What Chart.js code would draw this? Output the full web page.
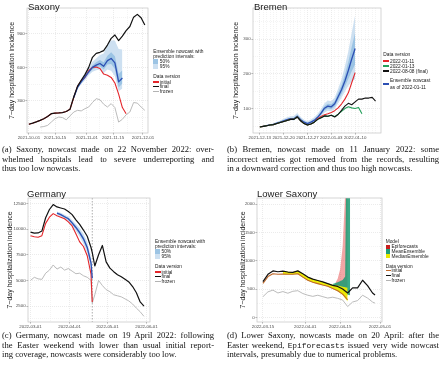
<!DOCTYPE html>
<html>
<head>
<meta charset="utf-8">
<script src="https://cdn.jsdelivr.net/npm/chart.js@4.4.1/dist/chart.umd.min.js"></script>
<style>
  body { margin: 0; background: #fff; }
  #page { position: relative; width: 440px; height: 365px; overflow: hidden; font-family: "Liberation Sans", Arial, sans-serif; }
  canvas { position: absolute; }
  .ttl { position: absolute; font-size: 9.5px; line-height: 9.5px; color: #1a1a1a; white-space: nowrap; }
  .lg { position: absolute; font-size: 4.8px; line-height: 5px; color: #1a1a1a; white-space: nowrap; }
  .key { position: absolute; }
  .cap { position: absolute; width: 212px; font-family: "Liberation Serif", serif; font-size: 8.6px; line-height: 9.6px; color: #111; }
  .cap div { text-align: justify; text-align-last: justify; white-space: nowrap; }
  .cap div.last { text-align: left; text-align-last: left; }
  .cap tt { font-family: "Liberation Mono", monospace; font-size: 7.9px; }
</style>
</head>
<body>
<div id="page">
  <canvas id="sax" width="162" height="142" style="left:0;top:0"></canvas>
  <canvas id="bre" width="160" height="142" style="left:226px;top:0"></canvas>
  <canvas id="ger" width="162" height="142" style="left:0;top:190px"></canvas>
  <canvas id="lsx" width="166" height="142" style="left:230px;top:190px"></canvas>

  <div class="ttl" style="left:28px;top:1.7px">Saxony</div>
  <div class="ttl" style="left:254px;top:1.7px">Bremen</div>
  <div class="ttl" style="left:27px;top:189px">Germany</div>
  <div class="ttl" style="left:257px;top:189px">Lower Saxony</div>

  <div class="cap" style="left:2px;top:145px">
    <div>(a) Saxony, nowcast made on 22 November 2022: over-</div>
    <div>whelmed hospitals lead to severe underreporting and</div>
    <div class="last">thus too low nowcasts.</div>
  </div>
  <div class="cap" style="left:227px;top:145px">
    <div>(b) Bremen, nowcast made on 11 January 2022: some</div>
    <div>incorrect entries got removed from the records, resulting</div>
    <div class="last">in a downward correction and thus too high nowcasts.</div>
  </div>
  <div class="cap" style="left:2px;top:331px">
    <div>(c) Germany, nowcast made on 19 April 2022: following</div>
    <div>the Easter weekend with lower than usual initial report-</div>
    <div class="last">ing coverage, nowcasts were considerably too low.</div>
  </div>
  <div class="cap" style="left:227px;top:331px">
    <div>(d) Lower Saxony, nowcasts made on 20 April: after the</div>
    <div>Easter weekend, <tt>Epiforecasts</tt> issued very wide nowcast</div>
    <div class="last">intervals, presumably due to numerical problems.</div>
  </div>
</div>

<script>
// ---------- (a) Saxony ----------
const saxOrigin = '2021-10-01';
const saxXLabels = ['2021-10-01', '2021-10-15', '2021-11-01', '2021-11-15', '2021-12-01'];
const saxYTicks = [300, 600, 900];
const saxDays = [0,2,4,6,8,10,12,14,16,18,20,22,24,26,28,30,32,34,36,38,40,42,44,46,48,50,52,54,56,58,60,62];
const saxFinal = [90,100,112,125,140,160,185,190,192,195,205,225,335,430,485,535,600,690,725,735,750,800,860,890,840,880,930,966,1050,1075,1045,980];
const saxInitial = [90,100,112,125,140,160,185,190,192,195,205,225,330,430,480,510,570,600,603,590,540,530,510,460,360,240,185,null,null,null,null,null];
const saxFrozen = [null,null,null,65,70,80,110,140,155,150,130,165,200,215,210,230,245,285,320,310,270,245,275,240,110,135,175,200,285,280,245,215];
const saxNowDays = [24,26,28,30,32,34,36,38,40,42,44,46,48,50];
const saxMedian = [330,420,470,515,560,600,620,635,610,660,680,640,470,505];
const saxLo95 = [320,405,450,485,530,560,575,580,550,580,570,520,385,410];
const saxLo50 = [326,413,462,500,546,582,598,610,582,625,630,585,420,455];
const saxHi50 = [335,428,480,532,576,620,645,665,645,705,735,700,540,575];
const saxHi95 = [342,440,495,548,600,650,680,712,725,800,840,840,765,760];

// ---------- (b) Bremen ----------
const breOrigin = '2021-12-13';
const breXLabels = ['2021-12-13', '2021-12-20', '2021-12-27', '2022-01-03', '2022-01-10'];
const breYTicks = [100, 200, 300];
const breDays = [0,1,2,3,4,5,6,7,8,9,10,11,12,13,14,15,16,17,18,19,20,21,22,23,24,25,26,27,28,29,30,31,32,33,34];
const breFinal = [48,50,52,54,55,58,61,64,67,70,70,77,66,58,54,57,62,70,75,80,79,82,77,84,96,108,116,112,120,128,128,131,131,133,122];
const bre0113 = [48,50,52,54,55,58,61,64,67,70,70,77,66,58,54,57,62,70,75,80,79,82,78,85,93,101,106,103,101,104,86,null,null,null,null];
const bre0111 = [48,50,52,54,55,58,61,64,67,70,70,77,66,58,54,57,62,72,78,83,86,90,95,103,114,128,146,175,204,null,null,null,null,null,null];
const breNowDays = [1,2,3,4,5,6,7,8,9,10,11,12,13,14,15,16,17,18,19,20,21,22,23,24,25,26,27,28];
const breMedian = [50,52,54,56,59,62,66,69,72,72,79,69,62,58,62,67,76,88,102,108,106,115,135,155,180,210,243,273];
const breLo95 = [49,51,53,54,56,59,62,65,68,67,73,64,57,53,56,60,68,78,90,95,93,100,116,132,150,166,178,186];
const breLo50 = [50,52,53,55,58,61,64,67,70,70,76,67,60,56,59,64,72,83,96,101,99,107,125,143,164,186,208,228];
const breHi50 = [51,53,55,57,60,63,68,71,74,75,82,72,65,61,65,71,80,93,108,115,113,123,146,168,198,235,278,318];
const breHi95 = [52,54,56,59,63,67,72,76,79,80,88,77,69,65,70,76,86,100,116,124,122,133,158,185,222,265,318,368];

// ---------- (c) Germany ----------
const gerOrigin = '2022-03-01';
const gerXLabels = ['2022-03-01', '2022-04-01', '2022-05-01', '2022-06-01'];
const gerYTicks = [2500, 5000, 7500, 10000, 12500];
const gerNowcastDate = '2022-04-19';
const gerDays = [0,3,6,9,12,15,18,21,24,27,30,33,36,39,42,45,48,49,51,54,57,60,63,66,69,72,75,78,81,84,87,90];
const gerFinal = [9700,9600,9620,9800,11100,11900,12380,12150,12050,11950,11700,11400,10900,10450,9900,9300,8200,7700,6400,7500,8400,6800,6200,5850,5550,5350,5100,4850,4400,3800,2900,2500];
const gerInitial = [9350,9250,9200,9350,10550,11150,11500,11300,11150,11000,10700,10300,9550,8750,8300,7400,5600,2900,null,null,null,null,null,null,null,null,null,null,null,null,null,null];
const gerFrozen = [5000,5300,5150,5100,5700,6000,6500,6100,6300,6000,6150,5900,5650,5700,5450,5300,5000,2800,3600,5000,4500,4100,3900,3600,3500,3400,3200,3000,2700,2300,1950,1500];
const gerNowDays = [21,24,27,30,33,36,39,42,45,48,49];
const gerMedian = [11550,11400,11200,11000,10600,10150,9650,9050,8200,6700,5200];
const gerLo95 = [11400,11220,11000,10770,10320,9800,9220,8550,7640,6180,4720];
const gerLo50 = [11490,11330,11120,10905,10485,10010,9475,8850,7975,6490,5010];
const gerHi50 = [11610,11470,11280,11095,10715,10290,9825,9250,8425,6910,5390];
const gerHi95 = [11700,11580,11400,11230,10880,10500,10080,9550,8760,7220,5680];

// ---------- (d) Lower Saxony ----------
const lsOrigin = '2022-03-15';
const lsXLabels = ['2022-03-15', '2022-04-01', '2022-04-15', '2022-05-01'];
const lsYTicks = [0, 500, 1000, 1500, 2000];
const lsDays = [0,2,4,6,8,10,12,14,16,18,20,22,24,26,28,30,32,34,36,38,40,42,44,45];
const lsFinal = [630,760,820,805,815,800,795,820,770,710,675,650,625,595,565,545,500,430,520,520,655,560,430,395];
const lsInitial = [600,720,770,760,765,760,760,770,710,655,620,595,570,550,510,470,410,310,null,null,null,null,null,null];
const lsFrozen = [365,450,480,430,455,425,460,470,420,390,370,390,365,340,355,335,305,190,270,295,390,340,270,250];
const lsMedDays = [8,10,12,14,16,18,20,22,24,26,28,30,32,34];
const lsMedLo = [760,755,755,765,705,650,615,590,565,545,505,460,395,280];
const lsMedHi = [820,805,800,825,775,715,680,655,630,600,575,560,540,520];
const lsMeanDays = [28,30,32,33,34,35];
const lsMeanLo = [520,490,450,430,400,390];
const lsMeanHi = [590,620,660,720,5000,5000];
const lsEpiDays = [29,30,31,32,33,34];
const lsEpiLo = [500,480,450,420,400,380];
const lsEpiHi = [600,680,850,1250,2200,6000];

// colours
const cRed = '#e4262b', cBlack = '#111111', cGrey = '#b3b3b3', cBlue = '#2c4fb3';
const cBand95 = '#cde0f1', cBand50 = '#9cc4e4';
const cGreen = '#23a05a', cBrown = '#c0692b';
const cEpi = 'rgba(226,55,55,0.45)', cMean = 'rgba(27,155,115,0.85)', cMed = 'rgba(236,236,0,0.97)';
const cEpiKey = '#c81e1e', cMeanKey = '#1f9e78', cMedKey = '#e8e800';

const font = '"Liberation Sans", Arial, sans-serif';

function dayOf(origin, s) {
  return Math.round((Date.parse(s) - Date.parse(origin)) / 864e5);
}

function series(days, vals) {
  return days.map((d, i) => ({ x: d, y: vals[i] }));
}

function line(days, vals, color, width, order) {
  return { data: series(days, vals), borderColor: color, borderWidth: width, pointRadius: 0,
           fill: false, order: order, borderJoinStyle: 'round' };
}

// lower bound + upper bound filled down to it
function band(days, lo, hi, color, order) {
  return [
    { data: series(days, lo), borderWidth: 0, borderColor: 'rgba(0,0,0,0)', pointRadius: 0, fill: false, order: order },
    { data: series(days, hi), borderWidth: 0, borderColor: 'rgba(0,0,0,0)', pointRadius: 0, fill: '-1', backgroundColor: color, order: order }
  ];
}

// panel border + optional dashed vertical line
const panelBox = {
  id: 'panelBox',
  beforeDatasetsDraw(chart, args, opts) {
    if (opts.value == null) return;
    const { ctx, chartArea: a } = chart;
    const x = chart.scales.x.getPixelForValue(opts.value);
    ctx.save();
    ctx.strokeStyle = '#777';
    ctx.lineWidth = 0.6;
    ctx.setLineDash([1.5, 1.5]);
    ctx.beginPath();
    ctx.moveTo(x, a.top);
    ctx.lineTo(x, a.bottom);
    ctx.stroke();
    ctx.restore();
  },
  afterDatasetsDraw(chart) {
    const { ctx, chartArea: a } = chart;
    ctx.save();
    ctx.strokeStyle = '#c4c4c4';
    ctx.lineWidth = 0.7;
    ctx.strokeRect(a.left, a.top, a.right - a.left, a.bottom - a.top);
    ctx.restore();
  }
};

function makePanel(id, o) {
  const xLab = new Map(o.xMajor.map((v, i) => [v, o.xLabels[i]]));
  const yLab = new Map(o.yMajor.map(v => [v, v.toString()]));
  const xAll = o.xMajor.concat(o.xMinor);
  const yAll = o.yMajor.concat(o.yMinor);
  const gridColor = map => c => (c.tick && map.has(c.tick.value)) ? '#d6d6d6' : '#e8e8e8';
  const tickColor = map => c => (c.tick && map.has(c.tick.value)) ? '#555' : 'rgba(0,0,0,0)';
  return new Chart(document.getElementById(id), {
    type: 'line',
    data: { datasets: o.datasets },
    options: {
      responsive: false,
      animation: false,
      events: [],
      layout: { padding: { top: o.padTop, right: o.padRight, left: 0, bottom: 0 } },
      plugins: { legend: { display: false }, tooltip: { enabled: false }, panelBox: { value: o.vline } },
      scales: {
        x: {
          type: 'linear', min: o.xMin, max: o.xMax,
          afterBuildTicks: a => { a.ticks = xAll.map(v => ({ value: v })); },
          afterFit: a => { a.height = o.xH; a.paddingLeft = 0; a.paddingRight = 0; },
          ticks: { autoSkip: false, maxRotation: 0, minRotation: 0, padding: 0.8, color: '#4d4d4d',
                   font: { family: font, size: 4.4 }, callback: v => xLab.get(v) ?? '' },
          grid: { color: gridColor(xLab), lineWidth: 0.5, tickLength: 1.5, tickColor: tickColor(xLab) },
          border: { display: false, dash: [1, 1] }
        },
        y: {
          min: o.yMin, max: o.yMax,
          afterBuildTicks: a => { a.ticks = yAll.map(v => ({ value: v })); },
          afterFit: a => { a.width = o.yW; a.paddingTop = 0; a.paddingBottom = 0; },
          ticks: { padding: 0.8, color: '#4d4d4d', font: { family: font, size: 4.4 },
                   callback: v => yLab.get(v) ?? '' },
          grid: { color: gridColor(yLab), lineWidth: 0.5, tickLength: 1.5, tickColor: tickColor(yLab) },
          border: { display: false, dash: [1, 1] },
          title: { display: true, text: '7\u2212day hospitalization incidence', color: '#1a1a1a',
                   font: { family: font, size: 7 }, padding: o.titlePad }
        }
      }
    },
    plugins: [panelBox]
  });
}

// (a) Saxony
makePanel('sax', {
  xMin: -1, xMax: 63.7, yMin: 12, yMax: 1132,
  xMajor: saxXLabels.map(s => dayOf(saxOrigin, s)), xLabels: saxXLabels, xMinor: [7, 22.5, 38, 53],
  yMajor: saxYTicks, yMinor: [150, 450, 750, 1050],
  yW: 27, xH: 9, padTop: 8, padRight: 14, titlePad: 7.5,
  datasets: [
    ...band(saxNowDays, saxLo95, saxHi95, cBand95, 9),
    ...band(saxNowDays, saxLo50, saxHi50, cBand50, 8),
    line(saxDays, saxFrozen, cGrey, 0.9, 4),
    line(saxDays, saxInitial, cRed, 1.1, 3),
    line(saxNowDays, saxMedian, cBlue, 1.3, 2),
    line(saxDays, saxFinal, cBlack, 1.2, 1)
  ]
});

// (b) Bremen
makePanel('bre', {
  xMin: -2, xMax: 35.6, yMin: 31, yMax: 389,
  xMajor: breXLabels.map(s => dayOf(breOrigin, s)), xLabels: breXLabels,
  xMinor: breDays.filter(d => d % 7 !== 0),
  yMajor: breYTicks, yMinor: [50, 150, 250, 350],
  yW: 27, xH: 9, padTop: 8, padRight: 5, titlePad: 5.8,
  datasets: [
    ...band(breNowDays, breLo95, breHi95, cBand95, 9),
    ...band(breNowDays, breLo50, breHi50, cBand50, 8),
    line(breNowDays, breMedian, cBlue, 1.3, 4),
    line(breDays, bre0111, cRed, 1.1, 3),
    line(breDays, bre0113, cGreen, 1.1, 2),
    line(breDays, breFinal, cBlack, 1.1, 1)
  ]
});

// (c) Germany
makePanel('ger', {
  xMin: -2, xMax: 94.8, yMin: 950, yMax: 13020,
  xMajor: gerXLabels.map(s => dayOf(gerOrigin, s)), xLabels: gerXLabels, xMinor: [15.5, 46, 76.5],
  yMajor: gerYTicks, yMinor: [1250, 3750, 6250, 8750, 11250],
  yW: 28, xH: 10, padTop: 8, padRight: 12, titlePad: 5.8,
  vline: dayOf(gerOrigin, gerNowcastDate),
  datasets: [
    ...band(gerNowDays, gerLo95, gerHi95, cBand95, 9),
    ...band(gerNowDays, gerLo50, gerHi50, cBand50, 8),
    line(gerDays, gerFrozen, cGrey, 0.9, 4),
    line(gerDays, gerInitial, cRed, 1.1, 3),
    line(gerNowDays, gerMedian, cBlue, 1.3, 2),
    line(gerDays, gerFinal, cBlack, 1.2, 1)
  ]
});

// (d) Lower Saxony
makePanel('lsx', {
  xMin: -2.4, xMax: 47.8, yMin: -83, yMax: 2108,
  xMajor: lsXLabels.map(s => dayOf(lsOrigin, s)), xLabels: lsXLabels, xMinor: [8.5, 24, 39],
  yMajor: lsYTicks, yMinor: [250, 750, 1250, 1750],
  yW: 27, xH: 10, padTop: 8, padRight: 14, titlePad: 8.8,
  datasets: [
    ...band(lsEpiDays, lsEpiLo, lsEpiHi, cEpi, 12),
    ...band(lsMeanDays, lsMeanLo, lsMeanHi, cMean, 11),
    ...band(lsMedDays, lsMedLo, lsMedHi, cMed, 10),
    line(lsDays, lsFrozen, cGrey, 0.9, 4),
    line(lsDays, lsInitial, cBrown, 1.1, 3),
    line(lsDays, lsFinal, cBlack, 1.2, 1)
  ]
});

// ---------- legends ----------
const page = document.getElementById('page');
function lgText(x, cy, text) {
  const d = document.createElement('div');
  d.className = 'lg';
  d.style.left = x + 'px';
  d.style.top = (cy - 2.5) + 'px';
  d.textContent = text;
  page.appendChild(d);
}
function lgLine(x, cy, color) {
  const d = document.createElement('div');
  d.className = 'key';
  d.style.cssText = `left:${x}px;top:${cy - 0.6}px;width:5.5px;height:1.2px;background:${color}`;
  page.appendChild(d);
}
function lgBox(x, cy, color) {
  const d = document.createElement('div');
  d.className = 'key';
  d.style.cssText = `left:${x}px;top:${cy - 2.2}px;width:4.5px;height:4.5px;background:${color}`;
  page.appendChild(d);
}

function nowcastLegend(x, y0) {
  lgText(x, y0, 'Ensemble nowcast with');
  lgText(x, y0 + 5, 'prediction intervals:');
  lgBox(x, y0 + 10.5, cBand50); lgText(x + 6.5, y0 + 10.5, '50%');
  lgBox(x, y0 + 15.5, cBand95); lgText(x + 6.5, y0 + 15.5, '95%');
  lgText(x, y0 + 25.5, 'Data version');
  lgLine(x, y0 + 31, cRed); lgText(x + 6.5, y0 + 31, 'initial');
  lgLine(x, y0 + 35.7, cBlack); lgText(x + 6.5, y0 + 35.7, 'final');
  lgLine(x, y0 + 40.3, cGrey); lgText(x + 6.5, y0 + 40.3, 'frozen');
}
nowcastLegend(153.3, 51);
nowcastLegend(155, 241);

// Bremen
lgText(383.3, 54.3, 'Data version');
lgLine(383.3, 61, cRed); lgText(390, 61, '2022-01-11');
lgLine(383.3, 66, cGreen); lgText(390, 66, '2022-01-13');
lgLine(383.3, 71, cBlack); lgText(390, 71, '2022-08-08 (final)');
lgLine(383.3, 84, cBlue); lgText(390, 80.7, 'Ensemble nowcast'); lgText(390, 87.3, 'as of 2022-01-11');

// Lower Saxony
lgText(385.7, 241, 'Model');
lgBox(385.7, 246.7, cEpiKey); lgText(391.5, 246.7, 'Epiforecasts');
lgBox(385.7, 251.3, cMeanKey); lgText(391.5, 251.3, 'MeanEnsemble');
lgBox(385.7, 256, cMedKey); lgText(391.5, 256, 'MedianEnsemble');
lgText(385.7, 266, 'Data version');
lgLine(385.7, 270.7, cBrown); lgText(391.5, 270.7, 'initial');
lgLine(385.7, 275.7, cBlack); lgText(391.5, 275.7, 'final');
lgLine(385.7, 280.3, cGrey); lgText(391.5, 280.3, 'frozen');
</script>
</body>
</html>
